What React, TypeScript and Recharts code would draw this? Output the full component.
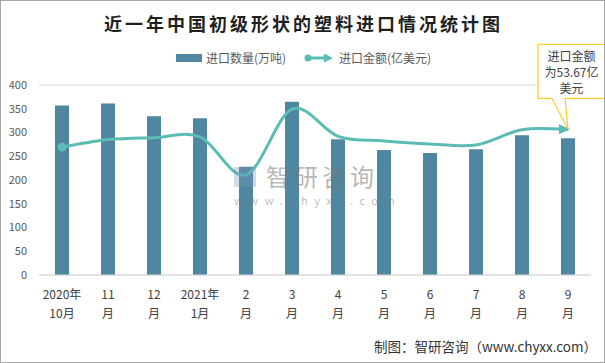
import React from 'react';
import { ComposedChart, Bar, Line, XAxis, YAxis, CartesianGrid } from 'recharts';

const categories = ['2020年10月', '11月', '12月', '2021年1月', '2月', '3月', '4月', '5月', '6月', '7月', '8月', '9月'];
const tickLine1 = ['2020年', '11', '12', '2021年', '2', '3', '4', '5', '6', '7', '8', '9'];
const tickLine2 = ['10月', '月', '月', '1月', '月', '月', '月', '月', '月', '月', '月', '月'];
const importVolume = [357, 361, 334, 330, 228, 365, 286, 263, 257, 265, 294, 288];
const importValue = [47.1, 49.9, 50.6, 50.9, 36.9, 61.1, 51.1, 49.4, 48.3, 47.9, 53.5, 53.67];
const yTicks = [0, 50, 100, 150, 200, 250, 300, 350, 400];

const data = categories.map((c, i) => ({ name: c, volume: importVolume[i], value: importValue[i] }));

const BAR_COLOR = '#4f86a0';
const LINE_COLOR = '#5bbcb4';
const FONT = '"Noto Sans CJK SC", "Noto Sans", sans-serif';

function catmullRom(context: any) {
  let pts: number[][] = [];
  return {
    areaStart() {},
    areaEnd() {},
    lineStart() { pts = []; },
    point(x: number, y: number) { pts.push([+x, +y]); },
    lineEnd() {
      if (!pts.length) return;
      context.moveTo(pts[0][0], pts[0][1]);
      for (let i = 0; i < pts.length - 1; i++) {
        const p0 = pts[i - 1] || pts[i];
        const p1 = pts[i];
        const p2 = pts[i + 1];
        const p3 = pts[i + 2] || p2;
        context.bezierCurveTo(
          p1[0] + (p2[0] - p0[0]) / 6, p1[1] + (p2[1] - p0[1]) / 6,
          p2[0] - (p3[0] - p1[0]) / 6, p2[1] - (p3[1] - p1[1]) / 6,
          p2[0], p2[1]
        );
      }
    },
  };
}

const XTick = (props: any) => {
  const { x, y, payload } = props;
  const i = categories.indexOf(payload.value);
  return (
    <g>
      <text x={x} y={y + 24} textAnchor="middle" fontSize={12} fill="#404040" fontFamily={FONT}>{tickLine1[i]}</text>
      <text x={x} y={y + 43} textAnchor="middle" fontSize={12} fill="#404040" fontFamily={FONT}>{tickLine2[i]}</text>
    </g>
  );
};

const LineDot = (props: any) => {
  const { cx, cy, index } = props;
  if (index === 0) return <circle key={index} cx={cx} cy={cy} r={4.5} fill={LINE_COLOR} />;
  if (index === data.length - 1)
    return <polygon key={index} points={`${cx + 2},${cy} ${cx - 9},${cy - 5} ${cx - 9},${cy + 5}`} fill={LINE_COLOR} />;
  return <g key={index} />;
};

const Callout = (props: any) => {
  const { x, y, index } = props;
  if (index !== data.length - 1) return null;
  const l = x - 30, r = x + 37, t = y - 85, b = y - 31;
  const cxm = (l + r) / 2;
  return (
    <g>
      <path d={`M${l},${t} L${r},${t} L${r},${b} L${x - 3},${b} L${x},${y} L${x - 16},${b} L${l},${b} Z`} fill="#fff" stroke="#ffc000" strokeWidth={1} />
      <text x={cxm} y={y - 68} textAnchor="middle" fontSize={12} fill="#404040" fontFamily={FONT}>进口金额</text>
      <text x={cxm} y={y - 52} textAnchor="middle" fontSize={12} fill="#404040" fontFamily={FONT}>为{importValue[index]}亿</text>
      <text x={cxm} y={y - 36} textAnchor="middle" fontSize={12} fill="#404040" fontFamily={FONT}>美元</text>
    </g>
  );
};

export default function App() {
  return (
    <div style={{ position: 'absolute', left: 0, top: 0, width: 605, height: 363, background: '#fff', border: '1px solid #a6a6a6', boxSizing: 'border-box', overflow: 'hidden', fontFamily: FONT }}>
      <div style={{ position: 'absolute', left: 0, top: 9, width: 605, textAlign: 'center', fontSize: 18, fontWeight: 'bold', color: '#1f1f1f', letterSpacing: 3 }}>
        近一年中国初级形状的塑料进口情况统计图
      </div>
      <div style={{ position: 'absolute', left: 0, top: 48, width: 605, display: 'flex', justifyContent: 'center', alignItems: 'center', fontSize: 12, color: '#595959' }}>
        <span style={{ display: 'inline-block', width: 26, height: 8, background: BAR_COLOR, marginRight: 4 }} />
        <span style={{ marginRight: 18 }}>进口数量(万吨)</span>
        <svg width={30} height={10} style={{ marginRight: 5 }}>
          <line x1={4} y1={5} x2={22} y2={5} stroke={LINE_COLOR} strokeWidth={3} />
          <circle cx={4} cy={5} r={3.5} fill={LINE_COLOR} />
          <polygon points="29,5 20,0.5 20,9.5" fill={LINE_COLOR} />
        </svg>
        <span>进口金额(亿美元)</span>
      </div>
      <div style={{ position: 'absolute', left: 0, top: 0 }}>
        <ComposedChart width={605} height={363} data={data} margin={{ top: 84, right: 15, bottom: 39, left: 0 }}>
          <CartesianGrid vertical={false} stroke="#d9d9d9" />
          <XAxis dataKey="name" height={50} interval={0} axisLine={{ stroke: '#d9d9d9' }} tickLine={false} tickSize={0} tickMargin={0} tick={<XTick />} />
          <YAxis yAxisId="left" width={38} domain={[0, 400]} ticks={yTicks} axisLine={false} tickLine={false} tickSize={0} tickMargin={12} tick={{ fontSize: 11, fill: '#595959', fontFamily: FONT }} />
          <YAxis yAxisId="right" orientation="right" hide domain={[0, 70]} />
          <Bar yAxisId="left" dataKey="volume" fill={BAR_COLOR} barSize={14} isAnimationActive={false} />
          <Line yAxisId="right" dataKey="value" type={catmullRom as any} stroke={LINE_COLOR} strokeWidth={3} dot={<LineDot />} activeDot={false} label={<Callout />} isAnimationActive={false} />
        </ComposedChart>
      </div>
      <div style={{ position: 'absolute', left: 233, top: 163, pointerEvents: 'none' }}>
        <div style={{ position: 'absolute', left: 0, top: 3, width: 22, height: 20, background: 'rgba(120,150,190,0.35)' }} />
        <div style={{ position: 'absolute', left: 32, top: 0, fontSize: 24, lineHeight: '24px', color: 'rgba(120,120,120,0.55)', whiteSpace: 'nowrap', letterSpacing: 4 }}>智研咨询</div>
        <div style={{ position: 'absolute', left: 0, top: 31, fontSize: 11, lineHeight: '11px', color: 'rgba(120,120,120,0.5)', whiteSpace: 'nowrap', letterSpacing: 6.5 }}>www.chyxx.com</div>
      </div>
      <div style={{ position: 'absolute', right: 7, top: 336, fontSize: 13.5, lineHeight: '18px', color: '#333', whiteSpace: 'nowrap' }}>
        制图：智研咨询（www.chyxx.com）
      </div>
    </div>
  );
}
